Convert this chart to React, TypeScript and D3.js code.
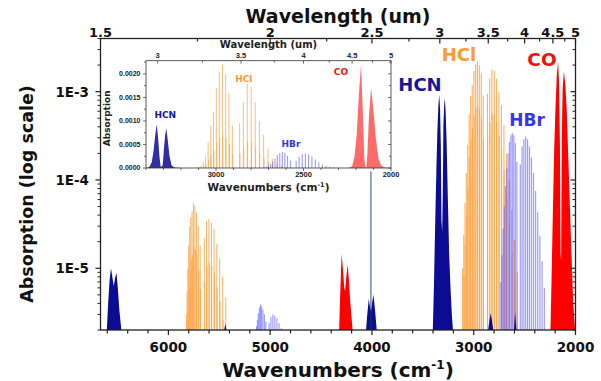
import React from 'react';
import * as d3 from 'd3';

// ---------- DATA (wavenumber cm-1, absorption) ----------
// Dense bands read as envelopes [nu, absorption]
const hcnFundamental: [number, number][] = [
  [3402, 2e-6], [3390, 7e-6], [3378, 3.5e-5], [3367, 1.3e-4], [3357, 3.6e-4], [3347, 7e-4], [3339, 9.3e-4],
  [3331, 6.5e-4], [3323, 2.4e-4], [3317, 3.5e-5], [3310, 2.6e-5], [3304, 7e-5], [3298, 4e-4], [3291, 6.8e-4],
  [3284, 8.5e-4], [3276, 6e-4], [3266, 2.6e-4], [3254, 6e-5], [3241, 1.4e-5], [3228, 6e-6], [3215, 3e-6], [3204, 2e-6],
];
const hcnOvertone: [number, number][] = [
  [6605, 2e-6], [6592, 4e-6], [6577, 7.5e-6], [6564, 1.0e-5], [6551, 8e-6], [6537, 6.3e-6], [6523, 7.8e-6],
  [6510, 8.9e-6], [6497, 6e-6], [6482, 3.4e-6], [6462, 2e-6],
];
const hcnCombination: [number, number][] = [
  [4058, 2e-6], [4046, 3e-6], [4031, 4.5e-6], [4018, 3.6e-6], [4008, 3.3e-6], [3998, 4.1e-6], [3985, 5e-6],
  [3970, 3.4e-6], [3953, 2e-6],
];
const hcnSpike: [number, number] = [4010, 1.25e-4];
const hcnWeakA: [number, number][] = [[5452, 2e-6], [5440, 2.35e-6], [5430, 2e-6]];
const hcnWeakB: [number, number][] = [[2858, 2e-6], [2845, 2.6e-6], [2833, 3.1e-6], [2822, 2.6e-6], [2808, 2e-6]];
const hcnWeakC: [number, number][] = [[2604, 2e-6], [2594, 3.2e-6], [2580, 2e-6]];
const coOvertone: [number, number][] = [
  [4322, 2e-6], [4312, 5e-6], [4298, 1.45e-5], [4285, 1e-5], [4272, 6e-6], [4264, 5.5e-6], [4252, 8e-6],
  [4238, 1.1e-5], [4225, 7e-6], [4212, 4e-6], [4190, 2e-6],
];
const coFundamental: [number, number][] = [
  [2246, 2e-6], [2234, 9e-6], [2222, 4.5e-5], [2209, 2.3e-4], [2196, 7e-4], [2183, 1.6e-3], [2171, 2.2e-3],
  [2162, 1.3e-3], [2153, 2.5e-4], [2147, 1.5e-5], [2141, 1.2e-5], [2135, 3e-4], [2126, 1.1e-3], [2114, 1.7e-3],
  [2101, 1.25e-3], [2087, 6.5e-4], [2072, 2e-4], [2056, 5.5e-5], [2040, 1.5e-5], [2022, 4e-6], [2004, 2e-6],
];

// Line bands: positions and peak absorptions
const hcl35FundNu = [2906.25, 2925.9, 2944.91, 2963.29, 2981.0, 2998.05, 3014.41, 3030.09, 3045.06, 3059.31, 3072.82, 3085.62, 3097.66, 3108.95,
  2865.1, 2843.63, 2821.57, 2798.94, 2775.76, 2752.04, 2727.78, 2703.01, 2677.73, 2651.97, 2625.74, 2599.0, 2572.02];
const hcl35FundAbs = [0.0009, 0.0016, 0.002, 0.0022, 0.00205, 0.0017, 0.0012, 0.0009, 0.00055, 0.00025, 0.00012, 5.5e-5, 2.4e-5, 1.0e-5,
  0.00095, 0.0014, 0.00178, 0.00172, 0.0014, 0.001, 0.0007, 0.00042, 0.0002, 9.8e-5, 4.6e-5, 2.1e-5, 9e-6];
const hcl37FundNu = [2904.11, 2923.75, 2942.74, 2961.09, 2978.79, 2995.8, 3012.14, 3027.8, 3042.75, 3056.98, 3070.47, 3083.25, 3095.27,
  2863.04, 2841.59, 2819.54, 2796.93, 2773.78, 2750.07, 2725.83, 2701.07, 2675.82, 2650.07, 2623.87, 2597.16];
const hcl37FundAbs = [0.00029, 0.00051, 0.00064, 0.0007, 0.00066, 0.00054, 0.00038, 0.00029, 0.00018, 8e-5, 3.8e-5, 1.8e-5, 8e-6,
  0.0003, 0.00045, 0.00057, 0.00055, 0.00045, 0.00032, 0.00022, 0.00013, 6.4e-5, 3.1e-5, 1.5e-5, 7e-6];
const hcl35OverNu = [5687.6, 5706.1, 5723.3, 5739.3, 5754.0, 5767.5, 5779.8, 5790.8, 5800.6, 5809.2, 5816.6, 5822.8,
  5647.1, 5625.0, 5601.7, 5577.1, 5551.2, 5524.3, 5496.0, 5466.5, 5435.9];
const hcl35OverAbs = [1.8e-5, 3.0e-5, 4.3e-5, 5.1e-5, 5.4e-5, 4.4e-5, 3.8e-5, 3.0e-5, 1.8e-5, 1.0e-5, 5.5e-6, 3e-6,
  2.2e-5, 3.4e-5, 3.6e-5, 3.3e-5, 2.8e-5, 1.9e-5, 1.3e-5, 8e-6, 4.7e-6];
const hcl37OverNu = [5683.4, 5701.8, 5718.9, 5734.8, 5749.4, 5762.8, 5775.0, 5785.9, 5795.6, 5804.1, 5811.4,
  5643.0, 5621.0, 5597.8, 5573.3, 5547.5, 5520.7, 5492.5, 5463.1];
const hcl37OverAbs = [5.8e-6, 9.6e-6, 1.38e-5, 1.63e-5, 1.73e-5, 1.41e-5, 1.22e-5, 9.6e-6, 5.8e-6, 3.2e-6, 2.2e-6,
  7e-6, 1.09e-5, 1.15e-5, 1.06e-5, 9e-6, 6.1e-6, 4.2e-6, 2.6e-6];
const hbrFundNu = [2575.1, 2591.0, 2606.3, 2621.1, 2635.5, 2649.4, 2662.8, 2675.7, 2688.1, 2700.0, 2711.5, 2722.4, 2732.9,
  2542.2, 2525.0, 2507.4, 2489.3, 2470.8, 2451.8, 2432.3, 2412.4, 2392.0, 2371.2, 2349.9, 2328.2, 2306.0];
const hbrFundAbs = [1.6e-4, 2.6e-4, 3.2e-4, 3.4e-4, 3.2e-4, 2.7e-4, 2.0e-4, 1.35e-4, 8.5e-5, 5e-5, 2.8e-5, 1.4e-5, 7e-6,
  1.5e-4, 2.4e-4, 2.9e-4, 3.1e-4, 2.9e-4, 2.4e-4, 1.8e-4, 1.2e-4, 7.5e-5, 4.3e-5, 2.3e-5, 1.2e-5, 6e-6];
const hbrOverNu = [5042.3, 5057.1, 5070.9, 5083.7, 5095.7, 5106.7, 5116.7, 5125.9, 5134.1,
  5009.8, 4992.2, 4973.6, 4954.2, 4933.8, 4912.5, 4890.3];
const hbrOverAbs = [2.5e-6, 3.0e-6, 3.4e-6, 3.7e-6, 3.9e-6, 3.6e-6, 3.1e-6, 2.6e-6, 2.2e-6,
  2.4e-6, 2.8e-6, 3.0e-6, 2.9e-6, 2.7e-6, 2.4e-6, 2.1e-6];

// Tick labels
const bottomTicks = [6000, 5000, 4000, 3000, 2000];
const topTicks = ['1.5', '2', '2.5', '3', '3.5', '4', '4.5', '5'];
const topMinor = [1.75, 2.25, 2.75, 3.25, 3.75, 4.25, 4.75];
const leftTicks = [1e-5, 1e-4, 1e-3];
const leftTickLabels = ['1E-5', '1E-4', '1E-3'];
const insetYTicks = ['0.0000', '0.0005', '0.0010', '0.0015', '0.0020'];
const insetXTicks = [3000, 2500, 2000];
const insetTopTicks = ['3', '3.5', '4', '4.5', '5'];
const insetTopMinor = [3.25, 3.75, 4.25, 4.75];

// ---------- COLOURS ----------
const NAVY = '#0b0b94';
const ORANGE = '#ffa446';
const BLUE = '#5c5cff';
const RED = '#ff0000';

// ---------- SCALES ----------
const M = { left: 100.5, right: 575.5, top: 38.5, bottom: 330 };
const x = d3.scaleLinear().domain([6667, 2000]).range([M.left, M.right]);
const y = d3.scaleLog().domain([2e-6, 4e-3]).range([M.bottom, M.top]);
const I = { left: 146, right: 391, top: 60.7, bottom: 168 };
const xi = d3.scaleLinear().domain([3400, 2000]).range([I.left, I.right]);
const yi = d3.scaleLinear().domain([0, 0.00228]).range([I.bottom, I.top]);

const mainArea = d3.area<[number, number]>()
  .x(d => x(d[0])).y0(M.bottom).y1(d => y(Math.max(d[1], 2e-6)));
const insetArea = d3.area<[number, number]>()
  .x(d => xi(d[0])).y0(yi(0)).y1(d => yi(d[1]));

function MainLines({ nu, abs, color, opacity, width }: { nu: number[]; abs: number[]; color: string; opacity: number; width: number }) {
  return <g>{nu.map((n, i) => (
    <line key={i} x1={x(n)} x2={x(n)} y1={M.bottom} y2={y(abs[i])} stroke={color} strokeWidth={width} strokeOpacity={opacity} />
  ))}</g>;
}
function InsetLines({ nu, abs, color, opacity, width }: { nu: number[]; abs: number[]; color: string; opacity: number; width: number }) {
  return <g>{nu.map((n, i) => (
    <line key={i} x1={xi(n)} x2={xi(n)} y1={yi(0)} y2={yi(abs[i])} stroke={color} strokeWidth={width} strokeOpacity={opacity} />
  ))}</g>;
}

export default function App() {
  const bold = { fontFamily: 'DejaVu Sans', fontWeight: 'bold' as const };
  const ibold = { fontFamily: 'Liberation Sans', fontWeight: 'bold' as const };

  // main minor ticks
  const bottomMinor = d3.range(2000, 6601, 200);
  const logMinor: number[] = [];
  [-6, -5, -4, -3].forEach(e => { for (let k = 2; k <= 9; k++) { const v = k * Math.pow(10, e); if (v >= 2e-6 && v <= 4e-3) logMinor.push(v); } });
  const insetYMinor = d3.range(0, 0.00226, 0.00025);
  const insetXMinor = d3.range(2000, 3401, 100);

  return (
    <svg width={601} height={381} style={{ position: 'absolute', left: 0, top: 0 }}>
      <rect x={0} y={0} width={601} height={381} fill="#fff" />
      <defs>
        <clipPath id="mainClip"><rect x={M.left} y={M.top} width={M.right - M.left} height={M.bottom - M.top} /></clipPath>
        <clipPath id="insetClip"><rect x={I.left} y={I.top} width={I.right - I.left} height={I.bottom - I.top} /></clipPath>
      </defs>

      {/* ---------- main spectra ---------- */}
      <g clipPath="url(#mainClip)">
        <MainLines nu={hcl35OverNu} abs={hcl35OverAbs} color={ORANGE} opacity={0.85} width={1} />
        <MainLines nu={hcl37OverNu} abs={hcl37OverAbs} color={ORANGE} opacity={0.85} width={1} />
        <MainLines nu={hcl35FundNu} abs={hcl35FundAbs} color={ORANGE} opacity={0.85} width={1.1} />
        <MainLines nu={hcl37FundNu} abs={hcl37FundAbs} color={ORANGE} opacity={0.85} width={1.1} />
        <MainLines nu={hbrOverNu} abs={hbrOverAbs} color={BLUE} opacity={0.7} width={1} />
        <MainLines nu={hbrFundNu} abs={hbrFundAbs} color={BLUE} opacity={0.6} width={1.2} />
        <path d={mainArea(hcnOvertone) || ''} fill={NAVY} />
        <path d={mainArea(hcnFundamental) || ''} fill={NAVY} />
        <path d={mainArea(hcnCombination) || ''} fill={NAVY} />
        <path d={mainArea(hcnWeakA) || ''} fill={NAVY} />
        <path d={mainArea(hcnWeakB) || ''} fill={NAVY} />
        <path d={mainArea(hcnWeakC) || ''} fill={NAVY} />
        <line x1={x(hcnSpike[0])} x2={x(hcnSpike[0])} y1={M.bottom} y2={y(hcnSpike[1])} stroke="#1b3a6a" strokeWidth={0.9} />
        <path d={mainArea(coOvertone) || ''} fill={RED} />
        <path d={mainArea(coFundamental) || ''} fill={RED} />
      </g>

      {/* ---------- main frame & axes ---------- */}
      <rect x={M.left} y={M.top} width={M.right - M.left} height={M.bottom - M.top} fill="none" stroke="#222" strokeWidth={1.3} />
      {bottomMinor.map(v => (
        <line key={'bm' + v} x1={x(v)} x2={x(v)} y1={M.bottom} y2={M.bottom + (v % 1000 === 0 ? 5 : 3.5)} stroke="#222" strokeWidth={1.2} />
      ))}
      {bottomTicks.map(v => (
        <text key={'bt' + v} x={x(v)} y={352} textAnchor="middle" fontSize={13.5} {...bold} fill="#111">{v}</text>
      ))}
      {topTicks.map(s => {
        const px = x(10000 / parseFloat(s));
        return <g key={'tt' + s}>
          {parseFloat(s) > 1.5 && <line x1={px} x2={px} y1={M.top} y2={M.top + 5} stroke="#222" strokeWidth={1.2} />}
          <text x={px} y={37} textAnchor="middle" fontSize={13} {...bold} fill="#111">{s}</text>
        </g>;
      })}
      {topMinor.map(l => (
        <line key={'tm' + l} x1={x(10000 / l)} x2={x(10000 / l)} y1={M.top} y2={M.top + 3} stroke="#222" strokeWidth={1.2} />
      ))}
      {leftTicks.map((v, i) => (
        <g key={'lt' + v}>
          <line x1={M.left - 5} x2={M.left} y1={y(v)} y2={y(v)} stroke="#222" strokeWidth={1.2} />
          <line x1={M.right - 5} x2={M.right} y1={y(v)} y2={y(v)} stroke="#222" strokeWidth={1.2} />
          <text x={89} y={y(v) + 5} textAnchor="end" fontSize={13.5} {...bold} fill="#111">{leftTickLabels[i]}</text>
        </g>
      ))}
      {logMinor.map(v => (
        <g key={'lm' + v}>
          <line x1={M.left - 3} x2={M.left} y1={y(v)} y2={y(v)} stroke="#222" strokeWidth={1} />
          <line x1={M.right - 3} x2={M.right} y1={y(v)} y2={y(v)} stroke="#222" strokeWidth={1} />
        </g>
      ))}

      {/* titles */}
      <text x={(M.left + M.right) / 2} y={22.5} textAnchor="middle" fontSize={19} {...bold} fill="#111">Wavelength (um)</text>
      <text x={(M.left + M.right) / 2} y={377} textAnchor="middle" fontSize={20} {...bold} fill="#111">
        Wavenumbers (cm<tspan dy={-8} fontSize={12}>-1</tspan><tspan dy={8}>)</tspan>
      </text>
      <text transform="translate(33,194) rotate(-90)" textAnchor="middle" fontSize={17.5} {...bold} fill="#111">Absorption (log scale)</text>

      {/* molecule labels */}
      <text x={420} y={91} textAnchor="middle" fontSize={18} {...bold} fill="#16169c">HCN</text>
      <text x={459} y={61} textAnchor="middle" fontSize={18} {...bold} fill="#ff9a2e">HCl</text>
      <text x={542} y={66} textAnchor="middle" fontSize={18.5} {...bold} fill="#f21010">CO</text>
      <text x={527} y={126} textAnchor="middle" fontSize={17} {...bold} fill="#3535ee">HBr</text>

      {/* ---------- inset ---------- */}
      <g clipPath="url(#insetClip)">
        <InsetLines nu={hcl35FundNu} abs={hcl35FundAbs} color={ORANGE} opacity={0.8} width={0.9} />
        <InsetLines nu={hcl37FundNu} abs={hcl37FundAbs} color={ORANGE} opacity={0.8} width={0.9} />
        <InsetLines nu={hbrFundNu} abs={hbrFundAbs} color={BLUE} opacity={0.75} width={0.9} />
        <path d={insetArea(hcnFundamental) || ''} fill={NAVY} fillOpacity={0.85} />
        <path d={insetArea(coFundamental) || ''} fill="#ff3a3a" fillOpacity={0.75} />
      </g>
      <rect x={I.left} y={I.top} width={I.right - I.left} height={I.bottom - I.top} fill="none" stroke="#333" strokeWidth={0.8} />
      {insetYMinor.map((v, i) => (
        <g key={'iym' + i}>
          <line x1={I.left - (i % 2 === 0 ? 3 : 2)} x2={I.left} y1={yi(v)} y2={yi(v)} stroke="#333" strokeWidth={0.7} />
          <line x1={I.right - (i % 2 === 0 ? 3 : 2)} x2={I.right} y1={yi(v)} y2={yi(v)} stroke="#333" strokeWidth={0.7} />
        </g>
      ))}
      {insetYTicks.map(s => (
        <text key={'iyt' + s} x={140.5} y={yi(parseFloat(s)) + 2.4} textAnchor="end" fontSize={7} {...ibold} fill="#222">{s}</text>
      ))}
      {insetXMinor.map(v => (
        <line key={'ixm' + v} x1={xi(v)} x2={xi(v)} y1={I.bottom} y2={I.bottom + (v % 500 === 0 ? 3 : 2)} stroke="#333" strokeWidth={0.7} />
      ))}
      {insetXTicks.map(v => (
        <text key={'ixt' + v} x={xi(v)} y={176.8} textAnchor="middle" fontSize={7.5} {...ibold} fill="#222">{v}</text>
      ))}
      {insetTopTicks.map(s => {
        const px = xi(10000 / parseFloat(s));
        return <g key={'itt' + s}>
          <line x1={px} x2={px} y1={I.top} y2={I.top + 3} stroke="#333" strokeWidth={0.7} />
          <text x={px} y={57.5} textAnchor="middle" fontSize={7.5} {...ibold} fill="#222">{s}</text>
        </g>;
      })}
      {insetTopMinor.map(l => (
        <line key={'itm' + l} x1={xi(10000 / l)} x2={xi(10000 / l)} y1={I.top} y2={I.top + 2} stroke="#333" strokeWidth={0.7} />
      ))}
      <text x={(I.left + I.right) / 2} y={48.3} textAnchor="middle" fontSize={10} {...bold} fill="#222">Wavelength (um)</text>
      <text x={(I.left + I.right) / 2} y={190.7} textAnchor="middle" fontSize={10.5} {...bold} fill="#222">
        Wavenumbers (cm<tspan dy={-4} fontSize={6.5}>-1</tspan><tspan dy={4}>)</tspan>
      </text>
      <text transform="translate(110,118.3) rotate(-90)" textAnchor="middle" fontSize={9} {...bold} fill="#222">Absorption</text>
      <text x={165.3} y={117.5} textAnchor="middle" fontSize={9} {...bold} fill="#16169c">HCN</text>
      <text x={243.8} y={81.7} textAnchor="middle" fontSize={9} {...bold} fill="#ff9a2e">HCl</text>
      <text x={291} y={147.3} textAnchor="middle" fontSize={9} {...bold} fill="#3535ee">HBr</text>
      <text x={341} y={75} textAnchor="middle" fontSize={9} {...bold} fill="#f21010">CO</text>
    </svg>
  );
}
